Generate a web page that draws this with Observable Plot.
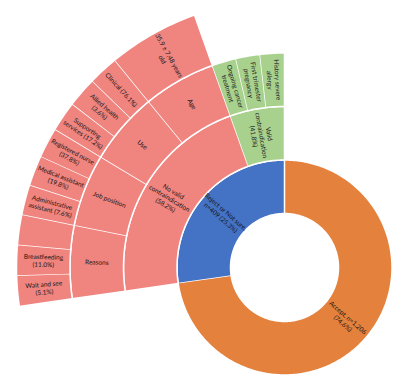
<!DOCTYPE html>
<html><head><meta charset="utf-8">
<script src="https://cdn.jsdelivr.net/npm/d3@7"></script>
<script src="https://cdn.jsdelivr.net/npm/@observablehq/plot@0.6"></script>
<style>body{margin:0;background:#fff;}</style>
</head><body><div id="chart"></div>
<script>
// Sunburst nodes, clockwise from 12 o'clock
const names = ["Accept","Reject","No valid","Valid",
  "Reasons","Job position","Use","Age",
  "Wait and see","Breastfeeding","(blank)",
  "Administrative assistant","Medical assistant","Registered nurse",
  "Supporting services","Allied health","Clinical","Age value",
  "Ongoing cancer treatment","First trimester pregnancy","History severe allergy"];
const parents = ["root","root","Reject","Reject",
  "No valid","No valid","No valid","No valid",
  "Reasons","Reasons","Reasons",
  "Job position","Job position","Job position",
  "Use","Use","Use","Age",
  "Valid","Valid","Valid"];
const labels = ["Accept, n=1,206\n(74.6%)","Reject or Not sure,\nn=409 (25.3%)","No valid\ncontraindication\n(58.2%)","Valid\ncontraindication\n(41.8%)",
  "Reasons","Job position","Use","Age",
  "Wait and see\n(5.1%)","Breastfeeding\n(11.0%)","",
  "Administrative\nassistant (7.6%)","Medical assistant\n(19.8%)","Registered nurse\n(37.8%)",
  "Supporting\nservices (17.2%)","Allied health\n(3.6%)","Clinical (76.1%)","35.9 ± 7.48 years\nold",
  "Ongoing cancer\ntreatment","First trimester\npregnancy","History severe\nallergy"];
// leaf sizes (segment widths as drawn)
const values = [40,0,0,0, 0,0,0,0, 1,1,1, 1,1,1, 1,1,1,3, 1,1,1];
const groupNames = ["Accept","Reject","No valid","Valid"];
const groupColors = ["#E3813D","#4472C4","#F0847F","#A9D18E"];

const rows = [{name:"root", parent:null, value:0, label:""}]
  .concat(names.map((n,i)=>({name:n, parent:parents[i], value:values[i], label:labels[i]})));
const root = d3.stratify().id(d=>d.name).parentId(d=>d.parent)(rows).sum(d=>d.value);
d3.partition().size([360, 5])(root);
const R0 = 54, W = 53.5;
const rad = y => R0 + (y-1)*W;
const nodes = root.descendants().filter(d=>d.depth>0);
function colorOf(d){ for(let n=d;n;n=n.parent){ const k=groupNames.indexOf(n.id); if(k>=0) return groupColors[k]; } return "#ccc"; }
const toRad = Math.PI/180;
const poly = [];
nodes.forEach(d=>{
  const n = Math.max(2, Math.ceil(d.x1-d.x0));
  const r0 = rad(d.y0), r1 = rad(d.y1), f = colorOf(d);
  for(let i=0;i<=n;i++){ const a=(d.x0+(d.x1-d.x0)*i/n)*toRad; poly.push({id:d.id,x:r1*Math.sin(a),y:r1*Math.cos(a),fill:f}); }
  for(let i=n;i>=0;i--){ const a=(d.x0+(d.x1-d.x0)*i/n)*toRad; poly.push({id:d.id,x:r0*Math.sin(a),y:r0*Math.cos(a),fill:f}); }
});
const txt = nodes.filter(d=>d.data.label).map(d=>{
  const a=(d.x0+d.x1)/2, r=(rad(d.y0)+rad(d.y1))/2;
  return {x:r*Math.sin(a*toRad), y:r*Math.cos(a*toRad), text:d.data.label, rotate: a>180 ? a-270 : a-90};
});
const chart = Plot.plot({
  width:400, height:385, margin:0,
  x:{domain:[-284,116], axis:null},
  y:{domain:[-118,267], axis:null},
  color:{type:"identity"},
  marks:[
    Plot.line(poly,{x:"x",y:"y",z:"id",fill:"fill",stroke:"white",strokeWidth:1.5,curve:"linear"}),
    Plot.text(txt,{x:"x",y:"y",text:"text",rotate:"rotate",fontSize:6.5,lineHeight:1.2,fill:"#151515",fontFamily:"Lato"})
  ]
});
document.getElementById("chart").appendChild(chart);
</script></body></html>
